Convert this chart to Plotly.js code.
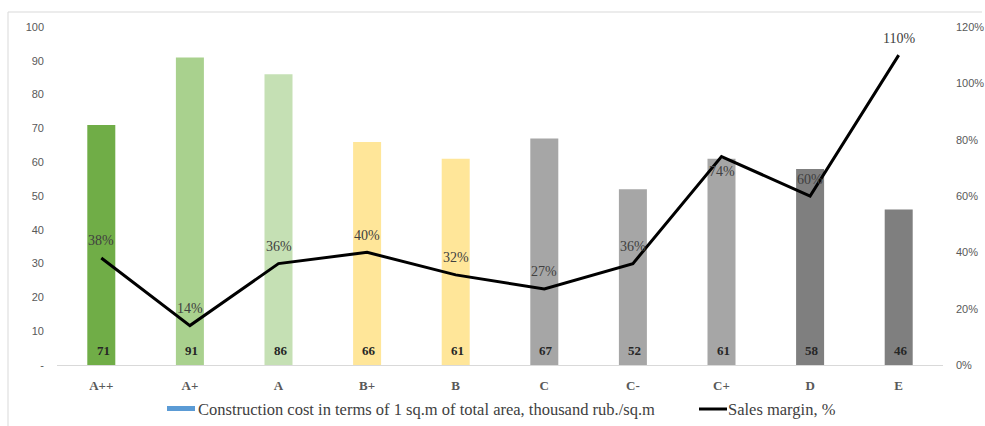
<!DOCTYPE html>
<html>
<head>
<meta charset="utf-8">
<script src="https://cdn.plot.ly/plotly-3.0.1.min.js"></script>
<style>
  html, body { margin: 0; padding: 0; background: #fff; }
  #chart { width: 985px; height: 426px; }
</style>
</head>
<body>
<div id="chart"></div>
<script>
// Energy-efficiency classes and their figures
const categories = ['A++', 'A+', 'A', 'B+', 'B', 'C', 'C-', 'C+', 'D', 'E'];
const costValues = [71, 91, 86, 66, 61, 67, 52, 61, 58, 46];            // thousand rub./sq.m
const marginValues = [0.38, 0.14, 0.36, 0.40, 0.32, 0.27, 0.36, 0.74, 0.60, 1.10]; // share
const barColors = ['#70AD47', '#A9D18E', '#C5E0B4', '#FFE699', '#FFE699',
                   '#A6A6A6', '#A6A6A6', '#A6A6A6', '#7F7F7F', '#7F7F7F'];
const leftTickVals = [0, 10, 20, 30, 40, 50, 60, 70, 80, 90, 100];
const leftTickText = ['-', '10', '20', '30', '40', '50', '60', '70', '80', '90', '100'];
const rightTickVals = [0, 0.2, 0.4, 0.6, 0.8, 1.0, 1.2];
const costName = 'Construction cost in terms of 1 sq.m of total area, thousand rub./sq.m';
const marginName = 'Sales margin, %';

const W = 985, H = 426;
const M = { l: 57, r: 42, t: 27, b: 61 };
const plotW = W - M.l - M.r, plotH = H - M.t - M.b;
const px = x => (x - M.l) / plotW;          // page x -> paper x
const py = y => (H - M.b - y) / plotH;      // page y -> paper y

const serif = '"Liberation Serif", "Times New Roman", serif';
const sans = '"Liberation Sans", Arial, sans-serif';

const bars = {
  type: 'bar',
  x: categories,
  y: costValues,
  name: costName,
  marker: { color: barColors },
  showlegend: false,
  hoverinfo: 'x+y'
};

const line = {
  type: 'scatter',
  mode: 'lines',
  x: categories,
  y: marginValues,
  yaxis: 'y2',
  name: marginName,
  line: { color: '#000000', width: 3 },
  showlegend: false
};

// cost values written at the foot of each bar
const barLabels = categories.map((c, i) => ({
  x: c, y: 0, xref: 'x', yref: 'y',
  text: String(costValues[i]),
  showarrow: false,
  yanchor: 'bottom',
  yshift: 5,
  xshift: 2,
  font: { family: serif, size: 13, color: '#262626', weight: 'bold' }
}));

// percentage labels over the margin line (the C+ label sits below its point)
const lineLabels = categories.map((c, i) => ({
  x: c, y: marginValues[i], xref: 'x', yref: 'y2',
  text: Math.round(marginValues[i] * 100) + '%',
  showarrow: false,
  yshift: c === 'C+' ? -15 : 17,
  font: { family: serif, size: 14, color: '#404040' }
}));

// legend built from a colour swatch, a line sample and two captions
const legendShapes = [
  { type: 'rect', xref: 'paper', yref: 'paper',
    x0: px(167), x1: px(195), y0: py(411), y1: py(406),
    fillcolor: '#5B9BD5', line: { width: 0 } },
  { type: 'line', xref: 'paper', yref: 'paper',
    x0: px(699), x1: px(727), y0: py(409), y1: py(409),
    line: { color: '#000000', width: 3 } }
];
const legendFont = { family: serif, size: 16.5, color: '#404040' };
const legendText = [
  { xref: 'paper', yref: 'paper', x: px(196), y: py(409), xanchor: 'left', yanchor: 'middle',
    text: costName, showarrow: false, font: legendFont },
  { xref: 'paper', yref: 'paper', x: px(726), y: py(409), xanchor: 'left', yanchor: 'middle',
    text: marginName, showarrow: false, font: legendFont }
];

// frame around the chart area
const frame = [
  { type: 'line', xref: 'paper', yref: 'paper', x0: px(8), x1: px(982), y0: py(12), y1: py(12),
    line: { color: '#D9D9D9', width: 1 } },
  { type: 'line', xref: 'paper', yref: 'paper', x0: px(8), x1: px(8), y0: py(12), y1: py(430),
    line: { color: '#D9D9D9', width: 1 } }
];

const layout = {
  width: W, height: H,
  margin: M,
  paper_bgcolor: '#ffffff',
  plot_bgcolor: '#ffffff',
  showlegend: false,
  bargap: 0.684,
  xaxis: {
    type: 'category',
    showgrid: false, zeroline: false,
    showline: true, linecolor: '#D9D9D9', linewidth: 1,
    ticks: '', ticklabelstandoff: 8,
    tickfont: { family: serif, size: 13, color: '#595959', weight: 'bold' }
  },
  yaxis: {
    range: [0, 100],
    tickvals: leftTickVals, ticktext: leftTickText,
    showgrid: false, zeroline: false, showline: false,
    ticks: '', ticklabelstandoff: 12,
    tickfont: { family: sans, size: 11, color: '#595959' }
  },
  yaxis2: {
    overlaying: 'y', side: 'right',
    range: [0, 1.2],
    tickvals: rightTickVals, tickformat: '.0%',
    showgrid: false, zeroline: false, showline: false,
    ticks: '', ticklabelstandoff: 12,
    tickfont: { family: sans, size: 11, color: '#595959' }
  },
  shapes: frame.concat(legendShapes),
  annotations: barLabels.concat(lineLabels, legendText)
};

Plotly.newPlot('chart', [bars, line], layout, { displayModeBar: false, staticPlot: true });
</script>
</body>
</html>
